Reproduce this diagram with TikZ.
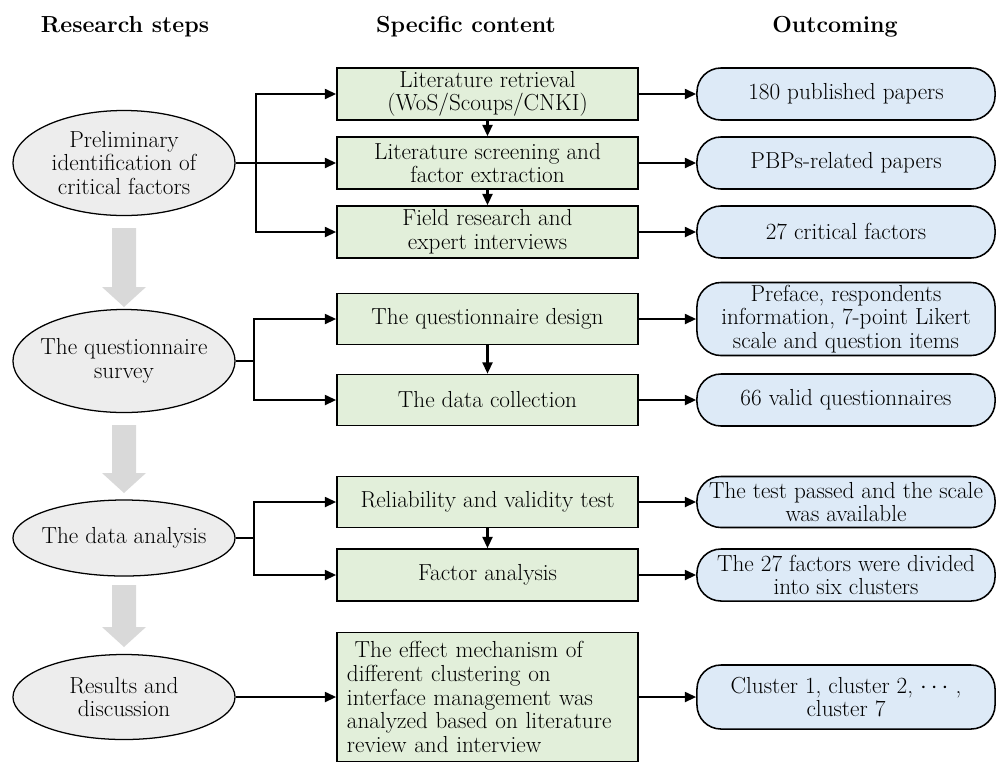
\documentclass[tikz,border=0pt]{standalone}
\usepackage{fontspec}
\usetikzlibrary{shapes.geometric,arrows.meta}
\definecolor{boxgreen}{RGB}{226,239,218}
\definecolor{boxblue}{RGB}{221,234,247}
\definecolor{ellgray}{RGB}{237,237,237}
\definecolor{arrgray}{RGB}{217,217,217}
\begin{document}
\begin{tikzpicture}[>={Triangle[length=8pt,width=7pt]},x=0.025cm,y=-0.025cm,
	every node/.style={font=\fontsize{16.5}{16.8}\selectfont},
	head/.style={font=\fontsize{16.5}{16.8}\selectfont\bfseries},
	stepnode/.style={ellipse,draw,fill=ellgray,line width=0.9pt,minimum width=5.55cm,align=center,inner ysep=0pt,inner xsep=-20pt},
	content/.style={rectangle,draw,fill=boxgreen,line width=1.1pt,minimum width=7.525cm,minimum height=1.3cm,align=center,inner sep=0pt},
	outcome/.style={rectangle,rounded corners=0.6cm,draw,fill=boxblue,line width=1.1pt,minimum width=7.45cm,minimum height=1.3cm,align=center,inner sep=0pt},
	link/.style={->,line width=1.6pt}]
		\useasboundingbox (0,0) rectangle (1003,765);
		% column titles
		\node[head] (h1) at (125,27) {Research steps};
		\node[head] (h2) at (466,27) {Specific content};
		\node[head] (h3) at (835,27) {Outcoming};
		% research steps
		\node[stepnode,minimum height=2.625cm] (s1) at (124,163) {Preliminary\\identification of\\critical factors};
		\node[stepnode,minimum height=2.575cm] (s2) at (124,361) {The questionnaire\\survey};
		\node[stepnode,minimum height=1.9cm] (s3) at (124,538) {The data analysis};
		\node[stepnode,minimum height=2.125cm] (s4) at (124,697) {Results and\\discussion};
		\foreach \ya/\yb in {228/307,425/493,585/647}
			\fill[arrgray] (112,\ya) -- (136,\ya) -- (136,\yb-20) -- (146,\yb-20) -- (124,\yb) -- (102,\yb-20) -- (112,\yb-20) -- cycle;
		% specific content
		\node[content] (c1) at (487.5,94) {Literature retrieval\\(WoS/Scoups/CNKI)};
		\node[content] (c2) at (487.5,163) {Literature screening and\\factor extraction};
		\node[content] (c3) at (487.5,232) {Field research and\\expert interviews};
		\node[content,minimum height=1.275cm] (c4) at (487.5,319) {The questionnaire design};
		\node[content,minimum height=1.275cm] (c5) at (487.5,400) {The data collection};
		\node[content,minimum height=1.275cm] (c6) at (487.5,502) {Reliability and validity test};
		\node[content] (c7) at (487.5,575) {Factor analysis};
		\node[content,minimum height=3.225cm,text width=7.025cm,align=left] (c8) at (487.5,697) {\ The effect mechanism of\\different clustering on\\interface management was\\analyzed based on literature\\review and interview};
		% outcoming
		\node[outcome] (o1) at (846,94) {180 published papers};
		\node[outcome] (o2) at (846,163) {PBPs-related papers};
		\node[outcome] (o3) at (846,232) {27 critical factors};
		\node[outcome,minimum height=1.825cm] (o4) at (846,319) {Preface, respondents\\information, 7-point Likert\\scale and question items};
		\node[outcome] (o5) at (846,400) {66 valid questionnaires};
		\node[outcome,minimum height=1.275cm] (o6) at (846,502) {The test passed and the scale\\was available};
		\node[outcome] (o7) at (846,575) {The 27 factors were divided\\into six clusters};
		\node[outcome,minimum height=1.6cm] (o8) at (846,697) {Cluster 1, cluster 2, $\cdots$ ,\\cluster 7};
		% branches
		\path (s1.east) ++(20,0) coordinate (j1);
		\path (s2.east) ++(18,0) coordinate (j2);
		\path (s3.east) ++(18,0) coordinate (j3);
		\draw[link] (s1.east) -- (c2.west);
		\draw[link] (j1) |- (c1.west);
		\draw[link] (j1) |- (c3.west);
		\draw[line width=1.6pt] (s2.east) -- (j2);
		\draw[link] (j2) |- (c4.west);
		\draw[link] (j2) |- (c5.west);
		\draw[line width=1.6pt] (s3.east) -- (j3);
		\draw[link] (j3) |- (c6.west);
		\draw[link] (j3) |- (c7.west);
		\draw[link] (s4.east) -- (c8.west);
		\foreach \a/\b in {c1/c2,c2/c3,c4/c5,c6/c7}
			\draw[link] (\a.south) -- (\b.north);
		\foreach \a/\b in {c1/o1,c2/o2,c3/o3,c4/o4,c5/o5,c6/o6,c7/o7,c8/o8}
			\draw[link] (\a.east) -- (\b.west);
		\end{tikzpicture}
\end{document}
